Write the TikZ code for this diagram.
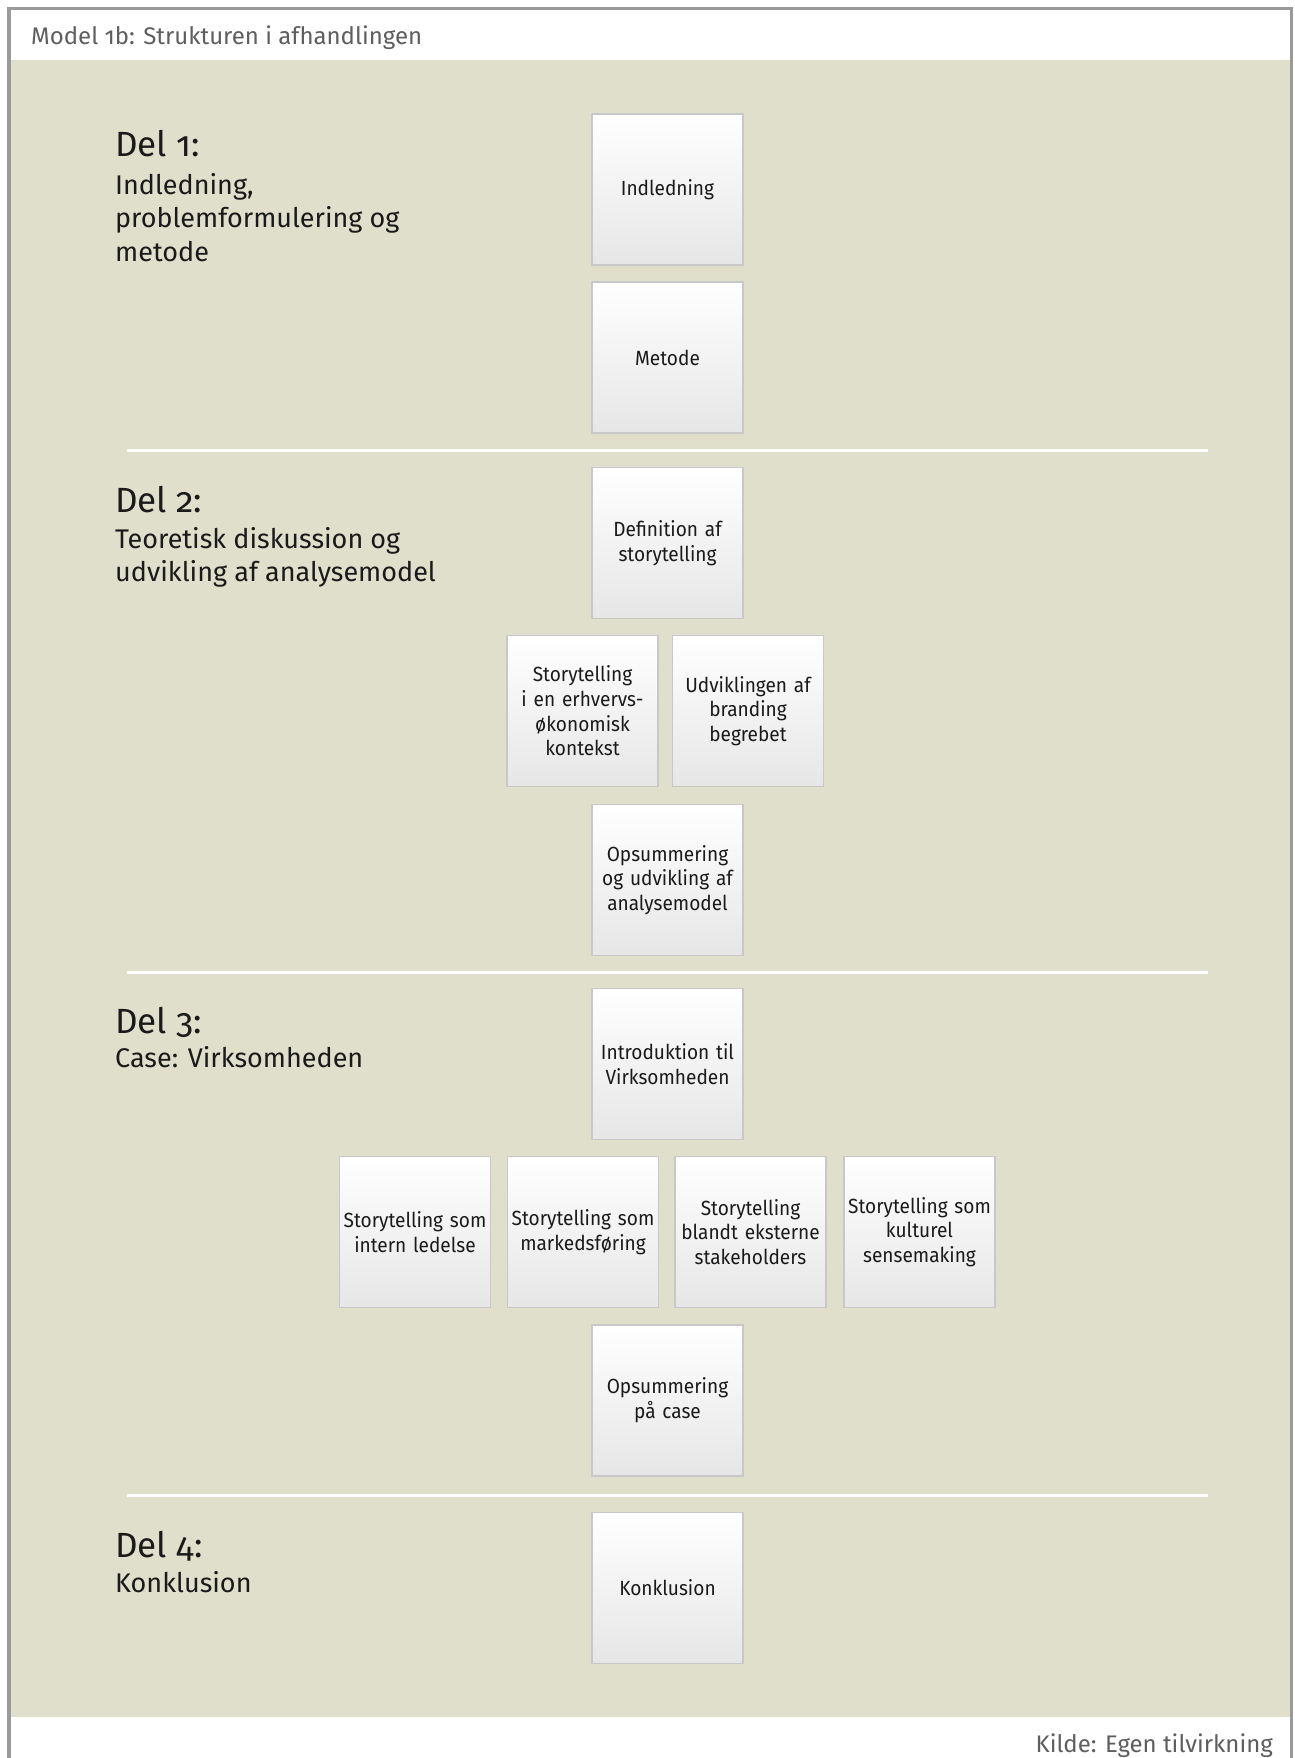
\documentclass[tikz,border=0pt]{standalone}
\usepackage{fontspec}
\setmainfont{Fira Sans}[Numbers=OldStyle]
\newfontfamily\boxfont{Fira Sans}[Numbers=OldStyle, FakeStretch=0.93]
\usetikzlibrary{shadings}
\definecolor{panel}{HTML}{E0DFCC}
\definecolor{frame}{HTML}{9A9A9A}
\definecolor{boxline}{HTML}{C8C8C8}
\definecolor{boxlow}{HTML}{E6E6E6}
\definecolor{captext}{HTML}{5E5E5E}
\definecolor{ink}{HTML}{1A1A1A}
\tikzset{
  x=1pt, y=-1pt,
  chapterbox/.style={draw=boxline, line width=1.2pt, top color=white, bottom color=boxlow,
    minimum width=151pt, minimum height=151pt, inner sep=0pt, text width=150pt, align=center,
    text=ink, font=\boxfont\fontsize{20.5}{24.7}\selectfont},
  parttitle/.style={anchor=base west, inner sep=0pt, text=ink, font=\fontsize{35}{40}\selectfont},
  % multi-line headings are anchored at the baseline of their last line
  partsub/.style={anchor=base west, inner sep=0pt, align=left, text=ink, font=\fontsize{27}{33.5}\selectfont},
  divider/.style={draw=white, line width=3pt},
  caption/.style={inner sep=0pt, text=captext, font=\fontsize{24}{28}\selectfont}
}
\begin{document}
\begin{tikzpicture}
\useasboundingbox (0,0) rectangle (1294,1758);
\fill[white] (0,0) rectangle (1294,1758);
% coloured panel and outer frame
\fill[panel] (11,60) rectangle (1289.5,1717);
\draw[frame, line width=3.5pt] (9,1758) -- (9,8.5) -- (1291.5,8.5) -- (1291.5,1758);

% caption and source line
\node[caption, anchor=base west] (cap) at (31,45) {Model 1b: Strukturen i afhandlingen};
\node[caption, anchor=base east] (src) at (1273,1752) {Kilde: Egen tilvirkning};

% section dividers
\coordinate (d1a) at (127,450);  \coordinate (d1b) at (1208,450);
\coordinate (d2a) at (127,972);  \coordinate (d2b) at (1208,972);
\coordinate (d3a) at (127,1495); \coordinate (d3b) at (1208,1495);
\draw[divider] (d1a) -- (d1b);
\draw[divider] (d2a) -- (d2b);
\draw[divider] (d3a) -- (d3b);

% part headings
\node[parttitle] (p1) at (115,157) {Del 1:};
\node[partsub] (p1s) at (115,261) {Indledning,\\problemformulering og\\metode};
\node[parttitle] (p2) at (115,512) {Del 2:};
\node[partsub] (p2s) at (115,581.5) {Teoretisk diskussion og\\udvikling af analysemodel};
\node[parttitle] (p3) at (115,1033) {Del 3:};
\node[partsub] (p3s) at (115,1067) {Case: Virksomheden};
\node[parttitle] (p4) at (115,1557) {Del 4:};
\node[partsub] (p4s) at (115,1592) {Konklusion};

% part 1
\node[chapterbox] (ind) at (667.5,189.5) {Indledning};
\node[chapterbox] (met) at (667.5,357.5) {Metode};
% part 2
\node[chapterbox] (def) at (667.5,543) {Definition af\\storytelling};
\node[chapterbox] (ste) at (582.5,711) {Storytelling\\i en erhvervs-\\økonomisk\\kontekst};
\node[chapterbox] (udv) at (748,711) {Udviklingen af\\branding\\begrebet};
\node[chapterbox] (ops) at (667.5,880) {Opsummering\\og udvikling af\\analysemodel};
% part 3
\node[chapterbox] (intro) at (667.5,1064) {Introduktion til\\Virksomheden};
\node[chapterbox] (r1) at (415,1232) {Storytelling som\\intern ledelse};
\node[chapterbox] (r2) at (583,1232) {Storytelling som\\markedsføring};
\node[chapterbox] (r3) at (750.5,1232) {Storytelling\\blandt eksterne\\stakeholders};
\node[chapterbox] (r4) at (919.5,1232) {Storytelling som\\kulturel\\sensemaking};
\node[chapterbox] (opc) at (667.5,1400.5) {Opsummering\\på case};
% part 4
\node[chapterbox] (kon) at (667.5,1588) {Konklusion};
\end{tikzpicture}
\end{document}
